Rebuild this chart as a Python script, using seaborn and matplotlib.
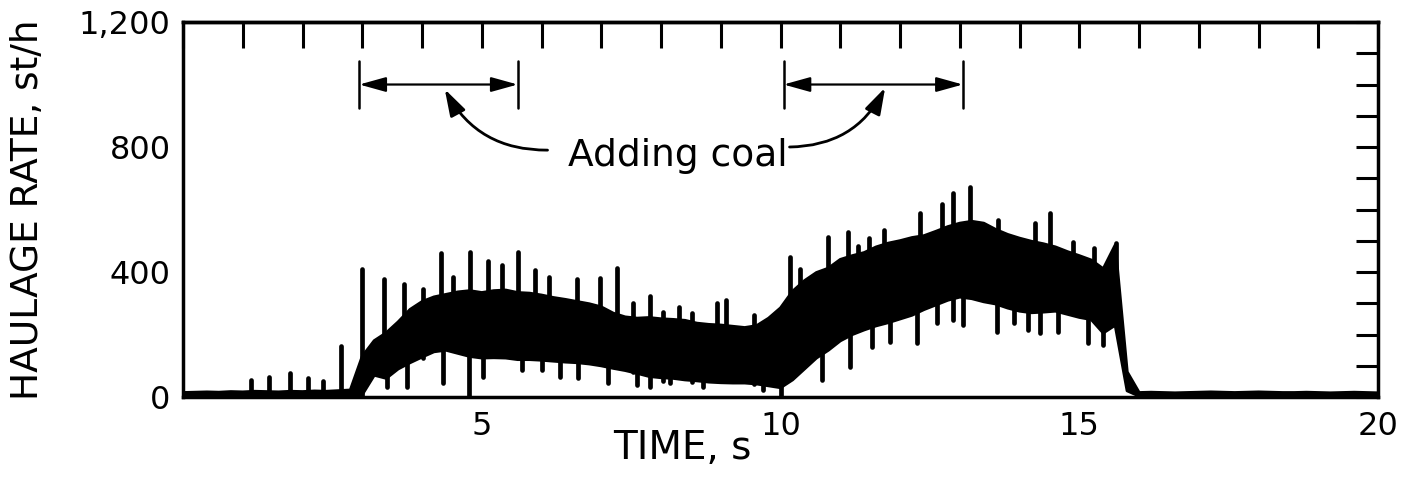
import numpy as np
import pandas as pd
import seaborn as sns
import matplotlib.pyplot as plt

# envelope readings every 0.2 s, 0..20 s
time_s = np.round(np.arange(0, 20.01, 0.2), 1)

upper_rate = [
    14, 15, 16, 15, 17, 16, 18, 17, 16, 18, 17, 19, 18, 20, 22,
    130, 180, 205, 240, 280, 305, 320, 328, 336, 340,
    334, 340, 342, 334, 332, 326, 318, 312, 305, 298,
    288, 268, 256, 252, 254, 250, 248, 245, 236, 232,
    230, 226, 222, 228, 252, 285, 338, 372, 398, 412,
    440, 452, 462, 480, 492, 500, 510, 516, 530, 545,
    556, 562, 556, 536, 520, 508, 498, 490, 480, 465,
    452, 438, 410, 486, 80,
    14, 15, 14, 13, 14, 15, 16, 15, 14, 15, 16, 15, 14, 14, 15, 14, 13, 14, 15, 14, 13,
]
lower_rate = [
    2, 2, 3, 2, 3, 3, 4, 3, 3, 4, 3, 4, 3, 4, 4,
    8, 70, 60, 90, 110, 128, 145, 150, 140, 130,
    125, 126, 125, 120, 120, 118, 115, 112, 110, 106,
    100, 92, 85, 76, 66, 62, 60, 55, 52, 48,
    46, 45, 45, 42, 36, 30, 55, 90, 125, 150,
    180, 200, 215, 228, 238, 250, 262, 280, 295, 310,
    320, 315, 305, 298, 285, 275, 270, 272, 275, 265,
    255, 248, 205, 230, 20,
    3, 3, 2, 2, 3, 3, 3, 2, 2, 3, 3, 3, 2, 2, 3, 3, 2, 2, 3, 3, 2,
]

# narrow peaks above the band
spike_time = [1.13, 1.44, 1.79, 2.09, 2.35, 2.65, 3.0, 3.37, 3.69, 4.01,
              4.32, 4.52, 4.8, 5.1, 5.34, 5.61, 5.89, 6.13, 6.59, 6.98,
              7.26, 7.53, 7.82, 8.03, 8.3, 8.51, 8.94, 9.09, 9.56, 10.16,
              10.33, 10.8, 11.13, 11.3, 11.48, 11.73, 12.33, 12.7, 12.89, 13.17,
              13.64, 14.26, 14.51, 14.9, 15.25, 15.62]
spike_top = [54, 64, 77, 61, 51, 163, 410, 378, 361, 346,
             461, 384, 464, 435, 422, 464, 406, 384, 378, 381,
             413, 301, 323, 272, 288, 269, 301, 310, 262, 448,
             410, 512, 528, 483, 509, 534, 589, 618, 653, 672,
             566, 557, 589, 496, 477, 493]

# narrow drops below the band
dip_time = [3.41, 3.75, 4.35, 4.78, 5.02, 5.67, 6.0, 6.31, 6.61, 7.11,
            7.6, 7.82, 8.15, 8.7, 9.71, 10.0, 10.69, 11.16, 11.53, 11.83,
            12.28, 12.62, 12.89, 13.05, 13.62, 13.9, 14.14, 14.34, 14.64, 15.15, 15.4]
dip_bottom = [32, 32, 45, 0, 64, 86, 86, 64, 61, 45,
              38, 32, 45, 32, 22, 0, 54, 96, 160, 176,
              173, 237, 246, 230, 208, 237, 214, 205, 208, 173, 166]

x_ticks = list(range(0, 21))
x_labels = ["" if t not in (5, 10, 15, 20) else str(t) for t in x_ticks]
y_ticks = list(range(0, 1201, 100))
y_names = {0: "0", 400: "400", 800: "800", 1200: "1,200"}
y_labels = [y_names.get(v, "") for v in y_ticks]

sns.set_theme(style="white")
plt.rcParams['font.family'] = ['DejaVu Sans']

fig = plt.figure(figsize=(14.09, 4.96), dpi=100)
ax = fig.add_axes([0.1299, 0.1996, 0.8482, 0.756])

env = pd.DataFrame({"time": time_s, "upper": upper_rate, "lower": lower_rate})
ax.fill_between(env["time"], env["lower"], env["upper"], color="black", lw=0)
sns.lineplot(data=env, x="time", y="upper", color="black", lw=2.2, ax=ax)
sns.lineplot(data=env, x="time", y="lower", color="black", lw=2.2, ax=ax)

# spikes and dips as short vertical strokes
rows = []
for i, (t, top) in enumerate(zip(spike_time, spike_top)):
    base = 0 if t <= 3.0 else top - 220
    rows += [(f"s{i}", t, base), (f"s{i}", t, top)]
for i, (t, bot) in enumerate(zip(dip_time, dip_bottom)):
    rows += [(f"d{i}", t, bot), (f"d{i}", t, bot + 150)]
segs = pd.DataFrame(rows, columns=["seg", "time", "rate"])
sns.lineplot(data=segs, x="time", y="rate", units="seg", estimator=None,
             color="black", lw=3.4, solid_capstyle="round", ax=ax)

# "Adding coal" brackets
for x0, x1 in [(2.95, 5.6), (10.05, 13.05)]:
    for xb in (x0, x1):
        ax.plot([xb, xb], [925, 1075], color="black", lw=1.8)
    ax.annotate("", xy=(x0, 1000), xytext=(x1, 1000),
                arrowprops=dict(arrowstyle="<|-|>,head_length=0.9,head_width=0.25",
                                color="black", lw=1.6, shrinkA=0, shrinkB=0,
                                mutation_scale=18))
ax.annotate("", xy=(4.38, 985), xytext=(6.1, 790),
            arrowprops=dict(arrowstyle="-|>,head_length=0.9,head_width=0.28",
                            connectionstyle="arc3,rad=-0.3", color="black",
                            lw=2, shrinkA=0, shrinkB=0, mutation_scale=18))
ax.annotate("", xy=(11.75, 990), xytext=(10.15, 800),
            arrowprops=dict(arrowstyle="-|>,head_length=0.9,head_width=0.28",
                            connectionstyle="arc3,rad=0.3", color="black",
                            lw=2, shrinkA=0, shrinkB=0, mutation_scale=18))
ax.text(8.28, 772, "Adding coal", ha="center", va="center", fontsize=27, color="black")

ax.set_xlim(0, 20)
ax.set_ylim(0, 1200)
ax.set_xticks(x_ticks)
ax.set_xticklabels(x_labels)
ax.set_yticks(y_ticks)
ax.set_yticklabels(y_labels)
ax.tick_params(axis="y", direction="in", length=16, width=2.2, right=True,
               labelsize=23, pad=9, colors="black")
ax.tick_params(axis="x", direction="in", length=13, width=2.2, top=False,
               labelsize=23, pad=10, colors="black")
for side in ax.spines.values():
    side.set_color("black")
    side.set_linewidth(2.5)

# longer ticks along the top edge
top_ax = ax.secondary_xaxis("top")
top_ax.set_xticks(x_ticks)
top_ax.set_xticklabels([])
top_ax.tick_params(direction="in", length=19, width=2.2, colors="black")
top_ax.spines["top"].set_linewidth(2.5)

ax.set_xlabel("TIME, s", fontsize=28, color="black")
ax.xaxis.set_label_coords(0.418, -0.085)
ax.xaxis.label.set_va("top")
ax.set_ylabel("HAULAGE RATE, st/h", fontsize=27, color="black")
ax.yaxis.set_label_coords(-0.115, 0.5)

fig.savefig("out.png", dpi=100)
